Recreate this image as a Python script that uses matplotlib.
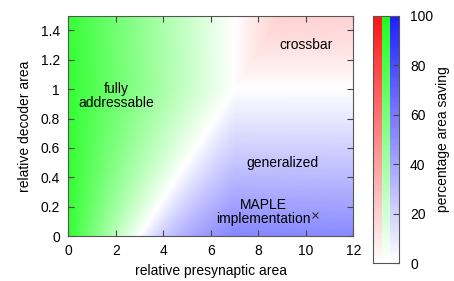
import numpy as np
import matplotlib
matplotlib.use('Agg')
import matplotlib.pyplot as plt

plt.rcParams['font.family'] = ['Liberation Sans', 'DejaVu Sans']
plt.rcParams['font.size'] = 10

# area model of the three schemes: base + presyn*x + decoder*y
schemes = ['fully addressable', 'crossbar', 'generalized']
base_area = [0.3, 7.3, 3.3]
presyn_coef = [1.03, 0.03, 0.03]
decoder_coef = [0.4, 0.4, 4.4]
# full-saturation colour of each scheme (green, red, blue)
scheme_colors = [(0.12, 1.0, 0.12), (1.0, 0.08, 0.08), (0.12, 0.12, 1.0)]

x_range = [0, 12]
y_range = [0, 1.5]
xticks = [0, 2, 4, 6, 8, 10, 12]
yticks = [0, 0.2, 0.4, 0.6, 0.8, 1.0, 1.2, 1.4]
ytick_labels = ['0', '0.2', '0.4', '0.6', '0.8', '1', '1.2', '1.4']
cb_ticks = [0, 20, 40, 60, 80, 100]

maple_point = (10.4, 0.14)

xs = np.linspace(x_range[0], x_range[1], 480)
ys = np.linspace(y_range[0], y_range[1], 300)
X, Y = np.meshgrid(xs, ys)
areas = np.array([b + p * X + d * Y for b, p, d in zip(base_area, presyn_coef, decoder_coef)])
srt = np.sort(areas, axis=0)
best = np.argmin(areas, axis=0)
saving = 1 - srt[0] / srt[1]

rgb = np.ones(X.shape + (3,))
for i, col in enumerate(scheme_colors):
    m = best == i
    for c in range(3):
        rgb[..., c][m] = 1 - saving[m] * (1 - col[c])

fig = plt.figure(figsize=(4.54, 2.81), dpi=100)
ax = fig.add_axes([68.3 / 454, 1 - 236 / 281, (353.3 - 68.3) / 454, (236 - 15.7) / 281])
ax.imshow(rgb, origin='lower', extent=x_range + y_range, aspect='auto', interpolation='bilinear')
ax.set_xlim(x_range)
ax.set_ylim(y_range)
ax.set_xticks(xticks)
ax.set_yticks(yticks)
ax.set_yticklabels(ytick_labels)
ax.tick_params(direction='in', top=True, right=True, length=4, color='#444444', pad=6)
for s in ax.spines.values():
    s.set_color('#555555')
ax.set_xlabel('relative presynaptic area', labelpad=4)
ax.set_ylabel('relative decoder area', labelpad=6)

ax.text(2.0, 0.95, 'fully\naddressable', ha='center', va='center', linespacing=1.0)
ax.text(10.0, 1.30, 'crossbar', ha='center', va='center')
ax.text(9.0, 0.5, 'generalized', ha='center', va='center')
ax.text(8.2, 0.165, 'MAPLE\nimplementation', ha='center', va='center', linespacing=1.0)
ax.plot(*maple_point, marker='x', color='#333333', ms=5, mew=0.8)

# colour bar: three stripes white -> scheme colour
cax = fig.add_axes([373.3 / 454, 1 - 263.3 / 281, (399 - 373.3) / 454, (263.3 - 15.7) / 281])
lev = np.linspace(0, 1, 200)[:, None]
bar = np.ones((200, 3, 3))
for j, col in enumerate([scheme_colors[1], scheme_colors[0], scheme_colors[2]]):
    for c in range(3):
        bar[:, j, c] = 1 - lev[:, 0] * (1 - col[c])
cax.imshow(bar, origin='lower', extent=[0, 3, 0, 100], aspect='auto', interpolation='nearest')
cax.set_xticks([])
cax.set_yticks(cb_ticks)
cax.yaxis.tick_right()
cax.tick_params(direction='in', length=4, color='#444444', pad=8)
for s in cax.spines.values():
    s.set_color('#555555')
cax.yaxis.set_label_position('right')
cax.set_ylabel('percentage area saving', labelpad=2)

fig.savefig('out.png', dpi=100)
